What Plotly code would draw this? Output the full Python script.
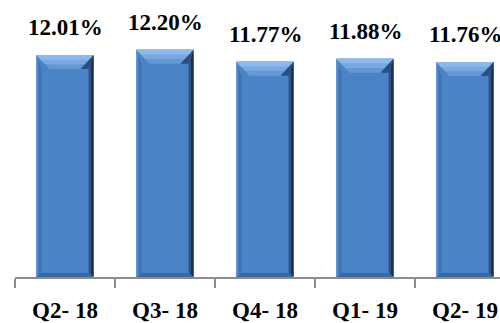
import plotly.graph_objects as go

# Quarterly ratio values (%)
quarters = ["Q2- 18", "Q3- 18", "Q4- 18", "Q1- 19", "Q2- 19"]
ratios = [12.01, 12.20, 11.77, 11.88, 11.76]
labels = ["12.01%", "12.20%", "11.77%", "11.88%", "11.76%"]

Y_MIN, Y_MAX = 4, 14
BAR_W = 0.57
FONT = "Liberation Serif"

W, H = 500, 323
M_L, M_R, M_T, M_B = 15, 0, 0, 46
X_RANGE = [-0.5, 4.35]
px_x = (W - M_L - M_R) / (X_RANGE[1] - X_RANGE[0])   # pixels per category unit
px_y = (H - M_T - M_B) / (Y_MAX - Y_MIN)              # pixels per value unit

fig = go.Figure()
fig.add_trace(go.Bar(
    x=list(range(len(quarters))), y=ratios, width=BAR_W,
    marker=dict(color="#4A84C6", line=dict(width=0)),
    hoverinfo="skip",
))


def poly(pts, color):
    path = "M " + " L ".join(f"{x},{y}" for x, y in pts) + " Z"
    return dict(type="path", path=path, xref="x", yref="y",
                fillcolor=color, line=dict(width=0), layer="above")


shapes = []
for i, v in enumerate(ratios):
    x0, x1 = i - BAR_W / 2, i + BAR_W / 2
    top, bot = v, Y_MIN
    side = 5 / px_x          # side bevel width
    inset = 13 / px_x        # top bevel corner inset
    th = 14 / px_y           # top bevel height
    bh = 4 / px_y            # bottom bevel height
    # left bevel
    shapes.append(poly([(x0, bot), (x0, top), (x0 + side, top - th),
                        (x0 + side, bot + bh)], "#3E73B4"))
    shapes.append(poly([(x0, bot), (x0, top), (x0 + side * 0.35, top - th * 0.3),
                        (x0 + side * 0.35, bot + bh * 0.35)], "#5B8FCC"))
    # right bevel (shadowed)
    shapes.append(poly([(x1, top), (x1, bot), (x1 - side, bot + bh),
                        (x1 - side, top - th)], "#2E5487"))
    shapes.append(poly([(x1, top), (x1, bot), (x1 - side * 0.5, bot + bh * 0.5),
                        (x1 - side * 0.5, top - th * 0.5)], "#1B3250"))
    # bottom bevel
    shapes.append(poly([(x0, bot), (x1, bot), (x1 - side, bot + bh),
                        (x0 + side, bot + bh)], "#3A6AA6"))
    # top bevel (lit), graded in three bands
    shapes.append(poly([(x0, top), (x1, top), (x1 - inset, top - th),
                        (x0 + inset, top - th)], "#6498D4"))
    shapes.append(poly([(x0, top), (x1, top), (x1 - inset * 0.66, top - th * 0.66),
                        (x0 + inset * 0.66, top - th * 0.66)], "#78A9E0"))
    shapes.append(poly([(x0, top), (x1, top), (x1 - inset * 0.33, top - th * 0.33),
                        (x0 + inset * 0.33, top - th * 0.33)], "#8DB9EA"))
    # dark shading at the top-right corner
    shapes.append(poly([(x1, top), (x1 - inset, top - th), (x1 - side, top - th)],
                       "#2B4E80"))

for i, (v, t) in enumerate(zip(ratios, labels)):
    fig.add_annotation(x=i, y=v, text=t, showarrow=False, xref="x", yref="y",
                       yanchor="bottom", yshift=13,
                       font=dict(family=FONT, size=23, color="#000000",
                                 weight="bold"))

fig.update_layout(
    width=W, height=H,
    margin=dict(l=M_L, r=M_R, t=M_T, b=M_B),
    paper_bgcolor="white", plot_bgcolor="white",
    showlegend=False, shapes=shapes,
    xaxis=dict(
        type="linear", range=X_RANGE,
        tickmode="array", tickvals=list(range(len(quarters))), ticktext=quarters,
        ticks="", showgrid=False, zeroline=False,
        showline=False, ticklabelstandoff=17,
        tickfont=dict(family=FONT, size=23, color="#000000", weight="bold"),
    ),
    xaxis2=dict(
        overlaying="x", matches="x", range=X_RANGE,
        tickmode="array", tickvals=[-0.5, 0.5, 1.5, 2.5, 3.5, 4.5],
        ticks="outside", ticklen=9, tickwidth=2, tickcolor="#8C8C8C",
        showticklabels=False, showline=True, linecolor="#8C8C8C", linewidth=2,
        showgrid=False, zeroline=False,
    ),
    yaxis=dict(range=[Y_MIN, Y_MAX], visible=False),
)
# invisible trace to attach the boundary-tick axis
fig.add_trace(go.Scatter(x=[0], y=[Y_MIN], xaxis="x2", mode="markers",
                         marker=dict(opacity=0), hoverinfo="skip"))

fig.write_html("out.html")
